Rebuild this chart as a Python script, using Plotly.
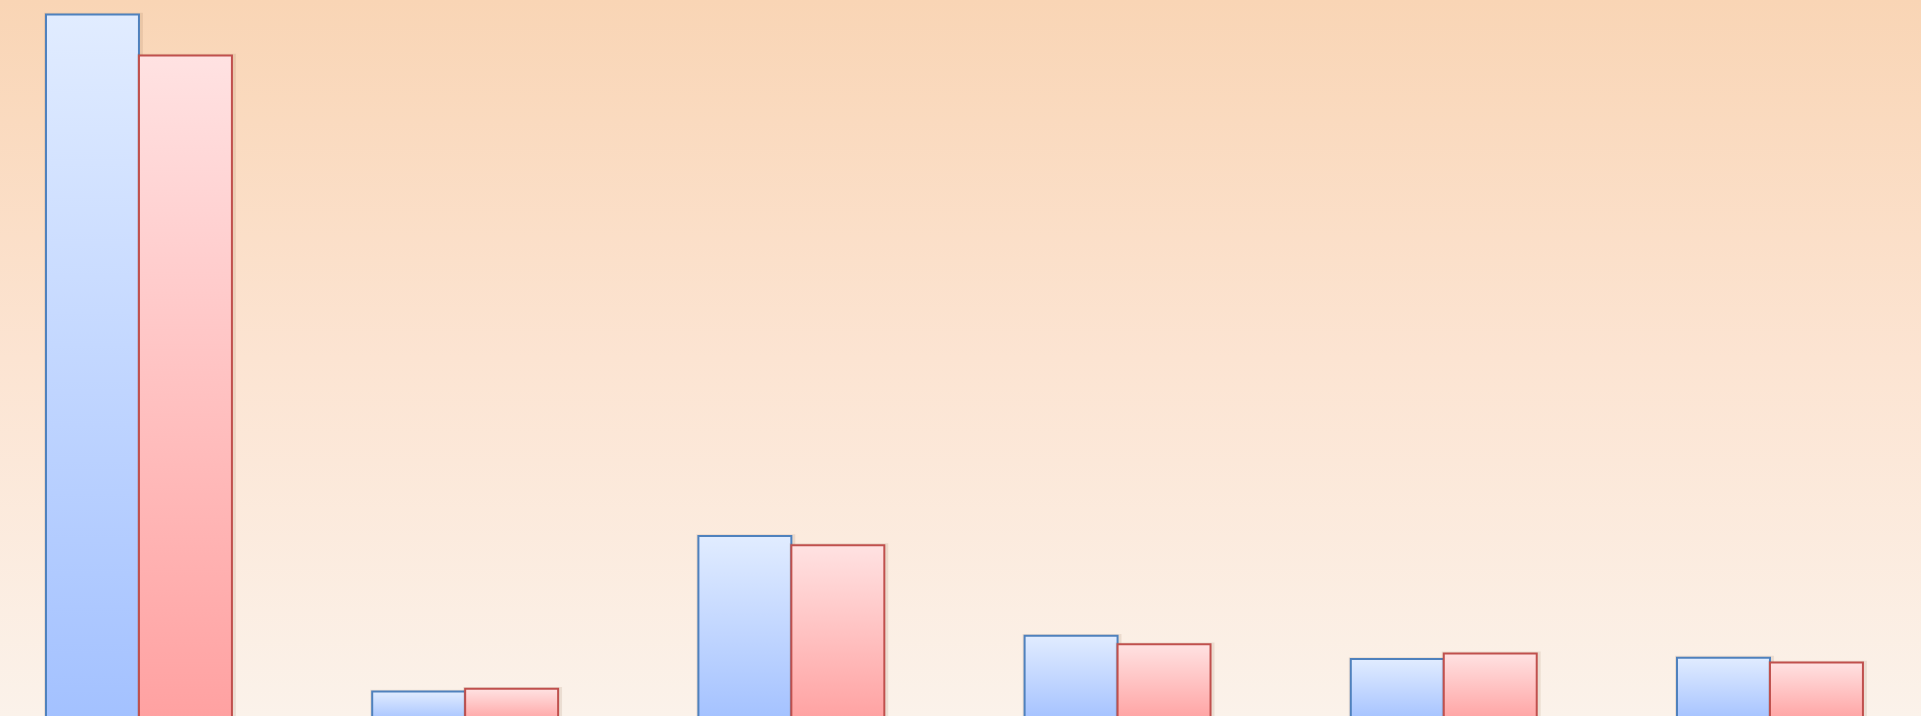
import plotly.graph_objects as go

categories = ["A", "B", "C", "D", "E", "F"]
series_blue = [100.0, 4.3, 26.3, 12.2, 8.9, 9.1]
series_red = [94.2, 4.7, 25.0, 11.0, 9.7, 8.4]

BAR_W = 0.285
X_RANGE = [-0.426, 5.463]
Y_RANGE = [0.85, 102.05]

fig = go.Figure()

# background gradient
fig.add_trace(go.Scatter(
    x=[X_RANGE[0] - 1, X_RANGE[1] + 1, X_RANGE[1] + 1, X_RANGE[0] - 1, X_RANGE[0] - 1],
    y=[-5, -5, 110, 110, -5],
    mode="lines", line=dict(width=0), fill="toself",
    fillgradient=dict(type="vertical", start=Y_RANGE[0], stop=Y_RANGE[1],
                      colorscale=[[0, "#fbf2ea"], [0.5, "#fce4d2"], [1, "#f9d5b5"]]),
    hoverinfo="skip", showlegend=False))

def add_bar(x0, x1, v, line_color, dark, light):
    # soft shadow
    dx = 0.006
    fig.add_trace(go.Scatter(
        x=[x0 - dx, x1 + dx * 2, x1 + dx * 2, x0 - dx, x0 - dx],
        y=[-5, -5, v + 0.25, v + 0.25, -5],
        mode="lines", line=dict(width=0), fill="toself",
        fillcolor="rgba(120,80,50,0.12)", hoverinfo="skip", showlegend=False))
    fig.add_trace(go.Scatter(
        x=[x0, x1, x1, x0, x0],
        y=[0, 0, v, v, 0],
        mode="lines", line=dict(width=2, color=line_color), fill="toself",
        fillgradient=dict(type="vertical", start=0, stop=v,
                          colorscale=[[0, dark], [1, light]]),
        hoverinfo="skip", showlegend=False))

for i, (b, r) in enumerate(zip(series_blue, series_red)):
    add_bar(i - BAR_W, i, b, "#4f81bd", "#a3c1ff", "#e1ecff")
    add_bar(i, i + BAR_W, r, "#c0504d", "#ffa1a1", "#ffe2e2")

fig.update_layout(
    width=1921, height=716,
    margin=dict(l=0, r=0, t=0, b=0),
    paper_bgcolor="#fbf2ea", plot_bgcolor="#fbf2ea",
    showlegend=False,
    xaxis=dict(range=X_RANGE, visible=False, fixedrange=True),
    yaxis=dict(range=Y_RANGE, visible=False, fixedrange=True),
)

fig.write_html("out.html")
